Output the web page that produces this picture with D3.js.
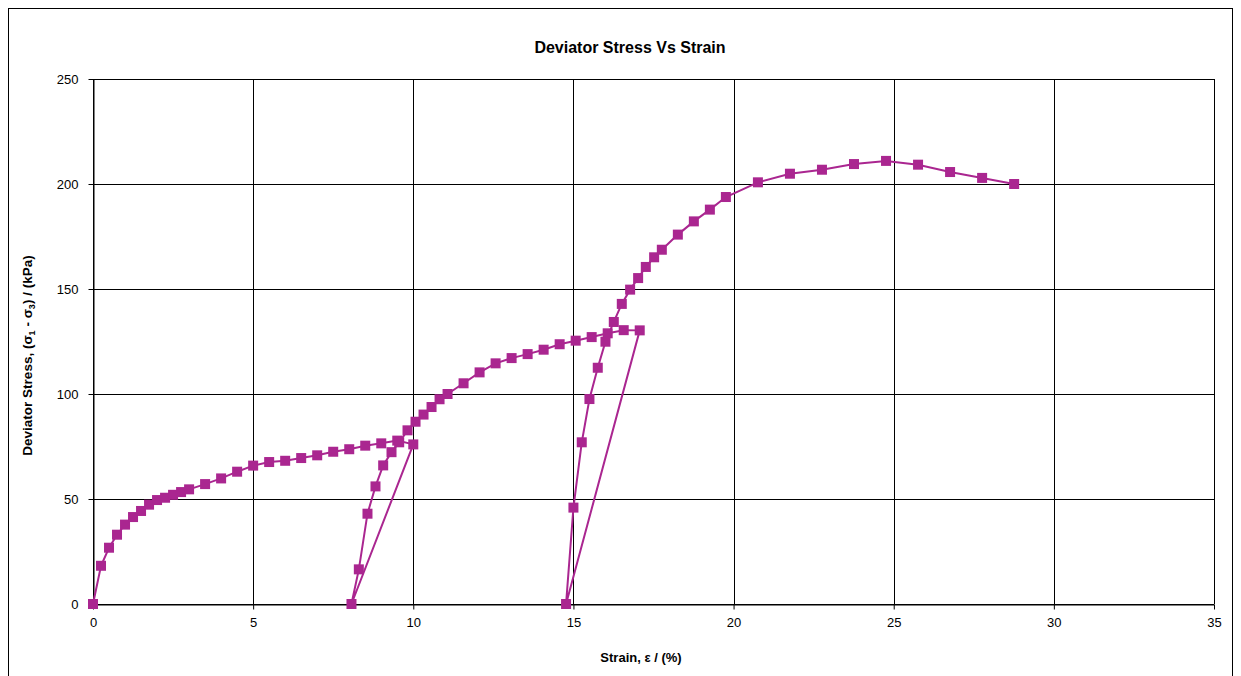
<!DOCTYPE html>
<html>
<head>
<meta charset="utf-8">
<script src="https://d3js.org/d3.v7.min.js"></script>
<style>
body { margin: 0; background: #fff; }
text { font-family: "Liberation Sans", Arial, sans-serif; }
.axis text { font-size: 13px; fill: #000; }
.axis path, .axis line { stroke: #000; }
.grid line { stroke: #000; stroke-width: 1; }
</style>
</head>
<body>
<script>
// strain (%) and deviator stress (kPa), in test order incl. unload/reload loops
var strain = [0, 0.25, 0.5, 0.75, 1.0, 1.25, 1.5, 1.75, 2.0, 2.25, 2.5, 2.75, 3.0, 3.5, 4.0, 4.5, 5.0, 5.5, 6.0, 6.5, 7.0, 7.5, 8.0, 8.5, 9.0, 9.5, 10.0,
  8.07,
  8.3, 8.57, 8.82, 9.06, 9.32, 9.56, 9.82, 10.07, 10.32, 10.57, 10.82, 11.07, 11.57, 12.07, 12.57, 13.07, 13.57, 14.07, 14.57, 15.07, 15.57, 16.07, 16.57, 17.07,
  14.77,
  15.0, 15.26, 15.5, 15.76, 16.0, 16.26, 16.51, 16.77, 17.02, 17.26, 17.52, 17.76, 18.26, 18.76, 19.26, 19.76, 20.76, 21.76, 22.76, 23.76, 24.76, 25.76, 26.76, 27.76, 28.76];
var stress = [0, 18.2, 26.8, 33.0, 37.8, 41.4, 44.3, 47.3, 49.5, 50.6, 52.0, 53.3, 54.6, 57.1, 59.8, 63.0, 65.9, 67.6, 68.2, 69.5, 70.8, 72.5, 73.7, 75.4, 76.5, 77.8, 76.0,
  0,
  16.5, 43.0, 56.0, 66.0, 72.3, 77.0, 82.7, 86.8, 90.2, 93.8, 97.5, 100.0, 105.1, 110.3, 114.6, 117.1, 119.0, 121.1, 123.7, 125.4, 127.1, 128.9, 130.4, 130.3,
  0,
  45.9, 77.0, 97.6, 112.5, 124.9, 134.3, 142.9, 149.7, 155.2, 160.5, 165.1, 168.7, 175.9, 182.2, 187.8, 193.8, 200.8, 204.9, 206.8, 209.5, 211.0, 209.2, 205.7, 202.9, 200.0];
var xTicks = [0, 5, 10, 15, 20, 25, 30, 35];
var yTicks = [0, 50, 100, 150, 200, 250];

var data = strain.map(function(d, i) { return {x: d, y: stress[i]}; });

var W = 1241, H = 676;
var margin = {top: 79, right: 27, bottom: 72, left: 93};
var width = W - margin.left - margin.right;
var height = H - margin.top - margin.bottom;

var svg = d3.select("body").append("svg")
    .attr("width", W)
    .attr("height", H);

// chart frame
svg.append("rect")
    .attr("x", 8.5).attr("y", 8.5)
    .attr("width", 1224).attr("height", 700)
    .attr("fill", "none").attr("stroke", "#000");

svg.append("text")
    .attr("x", 630).attr("y", 53)
    .attr("text-anchor", "middle")
    .style("font-size", "16px").style("font-weight", "bold")
    .text("Deviator Stress Vs Strain");

var g = svg.append("g")
    .attr("transform", "translate(" + margin.left + "," + margin.top + ")");

var x = d3.scaleLinear().domain([0, 35]).range([0, width]);
var y = d3.scaleLinear().domain([0, 250]).range([height, 0]);

// grid
g.append("g").attr("class", "grid")
  .selectAll("line.v").data(xTicks).enter().append("line")
    .attr("x1", function(d) { return Math.round(x(d)) + 0.5; })
    .attr("x2", function(d) { return Math.round(x(d)) + 0.5; })
    .attr("y1", 0).attr("y2", height);
g.append("g").attr("class", "grid")
  .selectAll("line.h").data(yTicks).enter().append("line")
    .attr("y1", function(d) { return Math.round(y(d)) + 0.5; })
    .attr("y2", function(d) { return Math.round(y(d)) + 0.5; })
    .attr("x1", 0).attr("x2", width);

g.append("g").attr("class", "axis")
    .attr("transform", "translate(0," + (height + 0.5) + ")")
    .call(d3.axisBottom(x).tickValues(xTicks).tickSize(5).tickPadding(8).tickSizeOuter(0))
    .call(function(s) { s.select(".domain").attr("stroke", "#808080"); });

g.append("g").attr("class", "axis")
    .attr("transform", "translate(0.5,0)")
    .call(d3.axisLeft(y).tickValues(yTicks).tickSize(5).tickPadding(10).tickSizeOuter(0));

// series
var color = "#aa2690";
g.append("path")
    .datum(data)
    .attr("fill", "none")
    .attr("stroke", color)
    .attr("stroke-width", 2)
    .attr("d", d3.line()
        .x(function(d) { return x(d.x); })
        .y(function(d) { return y(d.y); }));

g.selectAll("rect.pt").data(data).enter().append("rect")
    .attr("class", "pt")
    .attr("x", function(d) { return x(d.x) - 5; })
    .attr("y", function(d) { return y(d.y) - 5; })
    .attr("width", 10).attr("height", 10)
    .attr("fill", color);

// axis titles
svg.append("text")
    .attr("x", 641).attr("y", 662)
    .attr("text-anchor", "middle")
    .style("font-size", "13px").style("font-weight", "bold")
    .text("Strain, \u03b5 / (%)");

var yl = svg.append("text")
    .attr("transform", "translate(32," + (margin.top + height / 2 + 14) + ") rotate(-90)")
    .attr("text-anchor", "middle")
    .style("font-size", "13.5px").style("font-weight", "bold");
yl.append("tspan").text("Deviator Stress, (\u03c3");
yl.append("tspan").attr("dy", 3).style("font-size", "9px").text("1");
yl.append("tspan").attr("dy", -3).text(" - \u03c3");
yl.append("tspan").attr("dy", 3).style("font-size", "9px").text("3");
yl.append("tspan").attr("dy", -3).text(") / (kPa)");
</script>
</body>
</html>
